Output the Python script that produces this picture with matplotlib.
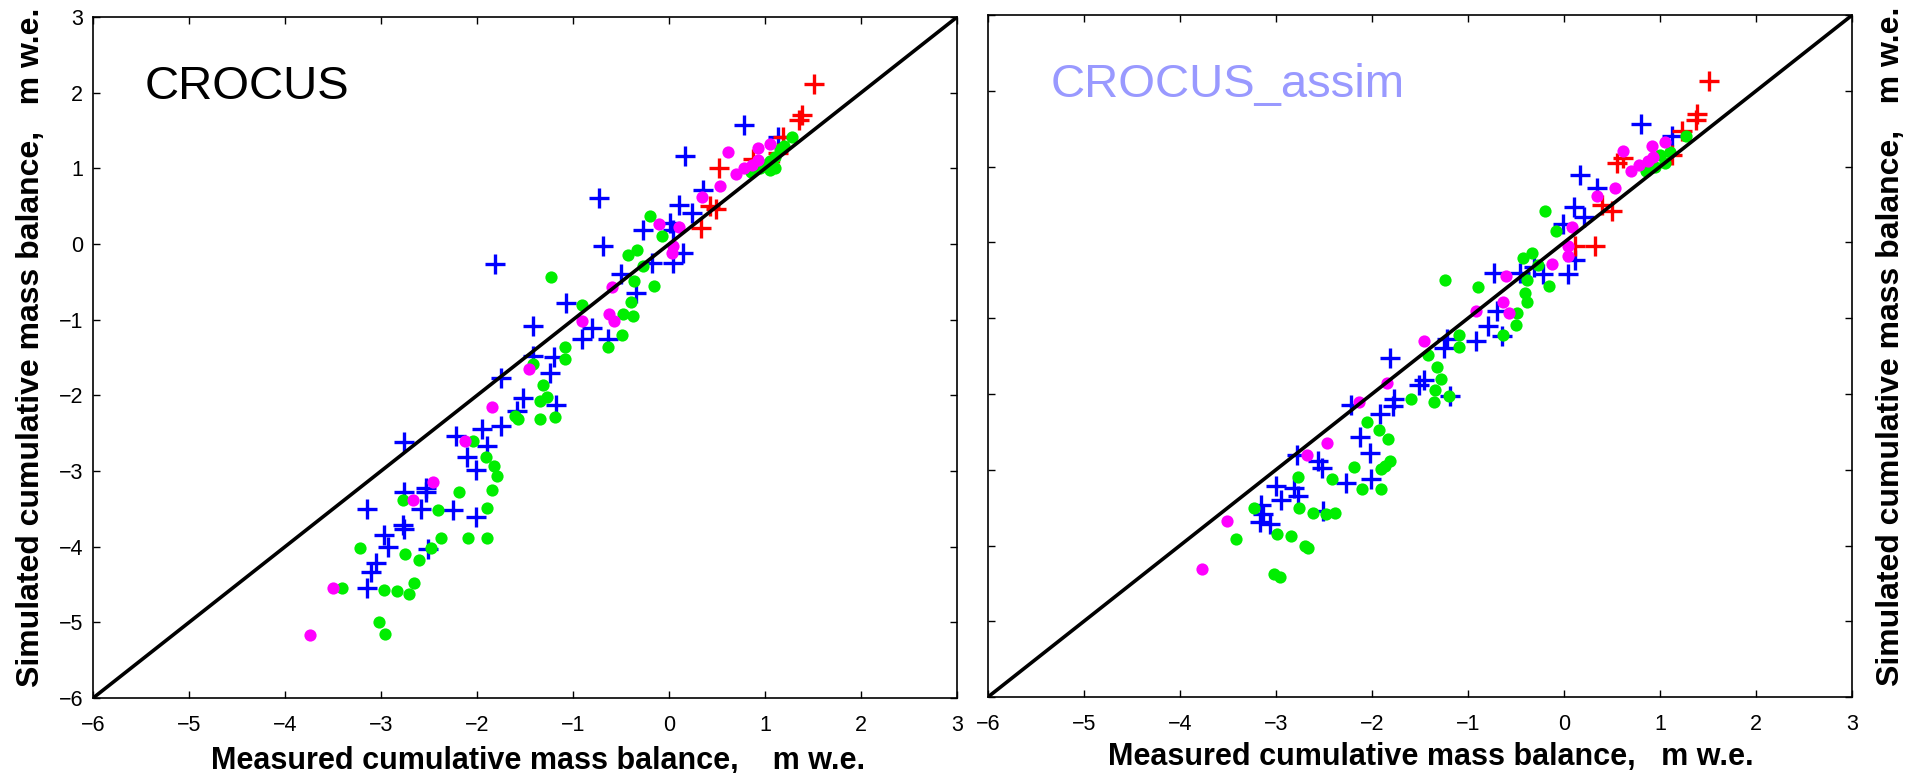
"""Simulated vs measured cumulative mass balance: CROCUS and CROCUS_assim."""

import matplotlib
matplotlib.use('Agg')
import matplotlib.pyplot as plt

plt.rcParams['font.family'] = ['Liberation Sans', 'DejaVu Sans']

# --- CROCUS (left panel) ---
red_x_l = [1.51, 1.38, 1.35, 1.19, 0.87, 1.13, 0.52, 0.43, 0.49, 0.33]
red_y_l = [2.12, 1.71, 1.64, 1.42, 1.13, 1.20, 1.00, 0.50, 0.46, 0.21]

blue_x_l = [0.78, 1.13, 0.17, 0.35, -0.73, 0.10, 0.24, -0.27, 0.01, 0.04,
            -0.69, -1.81, 0.14, 0.04, -0.18, -0.50, -0.34, -1.07, -1.42, -0.80,
            -0.91, -0.64, -1.20, -1.42, -1.24, -1.75, -1.52, -1.18, -1.58, -1.95,
            -1.75, -2.22, -2.76, -1.90, -2.11, -2.01, -2.53, -2.76, -2.53, -3.15,
            -2.58, -2.25, -2.01, -2.77, -2.76, -2.97, -2.93, -2.51, -3.05, -3.11,
            -3.15]
blue_y_l = [1.57, 1.42, 1.16, 0.72, 0.61, 0.52, 0.41, 0.19, 0.28, 0.19,
            -0.02, -0.26, -0.12, -0.25, -0.25, -0.40, -0.65, -0.78, -1.08, -1.11,
            -1.26, -1.26, -1.49, -1.48, -1.70, -1.77, -2.03, -2.13, -2.21, -2.44,
            -2.40, -2.54, -2.62, -2.67, -2.81, -2.98, -3.22, -3.28, -3.28, -3.50,
            -3.50, -3.52, -3.61, -3.71, -3.76, -3.85, -4.01, -4.03, -4.21, -4.33,
            -4.55]

green_x_l = [1.28, 1.00, 1.05, 1.10, 0.95, 1.15, 1.20, 0.85, 1.10, 1.05,
             -0.20, -0.07, -0.33, -0.43, -1.23, -0.27, -0.37, -0.16, -0.40, -0.91,
             -0.48, -0.38, -0.49, -0.64, -1.08, -1.08, -1.42, -1.31, -1.27, -1.34,
             -1.61, -1.57, -1.34, -1.19, -2.04, -1.91, -1.82, -1.79, -1.84, -2.19,
             -2.77, -2.41, -1.90, -2.38, -2.09, -1.90, -3.22, -2.48, -2.75, -2.61,
             -3.41, -2.97, -2.83, -2.71, -2.66, -3.02, -2.96]
green_y_l = [1.42, 1.05, 1.10, 1.15, 1.00, 1.25, 1.30, 0.95, 1.00, 0.98,
             0.37, 0.11, -0.08, -0.15, -0.44, -0.29, -0.49, -0.55, -0.76, -0.80,
             -0.93, -0.95, -1.20, -1.36, -1.36, -1.52, -1.59, -1.86, -2.02, -2.07,
             -2.27, -2.31, -2.31, -2.28, -2.60, -2.81, -2.94, -3.07, -3.25, -3.28,
             -3.38, -3.52, -3.49, -3.89, -3.89, -3.89, -4.02, -4.02, -4.10, -4.18,
             -4.55, -4.57, -4.59, -4.62, -4.48, -4.99, -5.15]

magenta_x_l = [0.61, 0.93, 1.05, 0.70, 0.78, 0.86, 0.93, 0.53, 0.34, -0.11,
               0.10, 0.04, 0.03, -0.59, -0.91, -0.63, -0.57, -1.46, -1.84, -2.13,
               -2.46, -2.67, -3.50, -3.74]
magenta_y_l = [1.21, 1.27, 1.32, 0.93, 1.00, 1.05, 1.11, 0.77, 0.62, 0.27,
               0.22, -0.03, -0.12, -0.57, -1.02, -0.93, -1.02, -1.65, -2.15, -2.60,
               -3.15, -3.38, -4.55, -5.17]

# --- CROCUS_assim (right panel) ---
red_x_r = [1.51, 1.39, 1.37, 1.23, 0.55, 0.61, 1.13, 0.40, 0.50, 0.32, 0.11]
red_y_r = [2.13, 1.70, 1.62, 1.47, 1.05, 1.11, 1.16, 0.50, 0.42, -0.05, -0.05]

blue_x_r = [0.80, 1.13, 0.17, 0.34, 0.10, 0.21, -0.01, 0.11, 0.04, -0.22,
            -0.46, -0.73, -0.31, -0.70, -0.79, -0.65, -0.92, -1.22, -1.25, -1.81,
            -1.46, -1.51, -2.22, -1.77, -1.78, -1.92, -1.19, -2.12, -2.02, -2.78,
            -2.56, -2.52, -2.27, -2.01, -3.00, -2.81, -2.77, -2.95, -3.16, -2.51,
            -3.13, -3.17, -3.06]
blue_y_r = [1.57, 1.40, 0.89, 0.72, 0.47, 0.34, 0.25, -0.23, -0.41, -0.41,
            -0.40, -0.40, -0.32, -0.91, -1.10, -1.24, -1.30, -1.28, -1.39, -1.52,
            -1.81, -1.88, -2.14, -2.07, -2.16, -2.27, -2.02, -2.57, -2.78, -2.80,
            -2.89, -2.98, -3.18, -3.12, -3.22, -3.24, -3.35, -3.40, -3.46, -3.55,
            -3.59, -3.69, -3.72]

green_x_r = [1.27, 1.00, 1.10, 0.90, 0.85, 1.05, 0.95, -0.20, -0.08, -0.33,
             -0.43, -0.27, -0.39, -1.24, -0.16, -0.90, -0.41, -0.39, -0.49, -0.50,
             -0.64, -1.09, -1.09, -1.42, -1.32, -1.28, -1.34, -1.59, -1.35, -1.20,
             -2.05, -1.93, -1.83, -1.81, -1.86, -1.91, -2.19, -2.77, -2.42, -2.10,
             -1.91, -3.23, -2.76, -2.61, -2.48, -2.39, -3.42, -2.99, -2.84, -2.70,
             -2.67, -3.02, -2.96]
green_y_r = [1.41, 1.15, 1.20, 1.00, 0.95, 1.05, 1.00, 0.41, 0.15, -0.14,
             -0.21, -0.30, -0.49, -0.49, -0.57, -0.59, -0.67, -0.78, -0.93, -1.09,
             -1.22, -1.22, -1.38, -1.49, -1.65, -1.80, -1.95, -2.07, -2.10, -2.02,
             -2.37, -2.48, -2.59, -2.88, -2.95, -2.99, -2.96, -3.10, -3.12, -3.25,
             -3.25, -3.51, -3.51, -3.57, -3.59, -3.57, -3.91, -3.85, -3.88, -4.01,
             -4.03, -4.38, -4.41]

magenta_x_r = [1.05, 0.92, 0.61, 0.93, 0.88, 0.78, 0.70, 0.53, 0.34, 0.08,
               0.04, 0.04, -0.12, -0.60, -0.64, -0.57, -0.92, -1.46, -1.84, -2.14,
               -2.47, -2.68, -3.51, -3.77]
magenta_y_r = [1.33, 1.27, 1.21, 1.13, 1.07, 1.02, 0.94, 0.72, 0.61, 0.21,
               -0.05, -0.18, -0.29, -0.44, -0.78, -0.93, -0.91, -1.30, -1.86, -2.11,
               -2.65, -2.80, -3.67, -4.31]

one_to_one = [-6, 3]
ticks = [-6, -5, -4, -3, -2, -1, 0, 1, 2, 3]

YLABEL = 'Simulated cumulative mass balance,   m w.e.'


def draw_panel(ax, blue, red, green, magenta, title, title_color):
    plus = dict(linestyle='none', marker='+', markersize=14.5, mew=2.4)
    dot = dict(linestyle='none', marker='o', markersize=8.8, mew=0)
    ax.plot(*blue, color='#0000ff', **plus)
    ax.plot(*red, color='#ff0000', **plus)
    ax.plot(*green, color='#00ee00', **dot)
    ax.plot(*magenta, color='#ff00ff', **dot)
    ax.plot(one_to_one, one_to_one, color='black', lw=2.6)

    ax.set_xlim(-6, 3)
    ax.set_ylim(-6, 3)
    ax.set_xticks(ticks)
    ax.set_yticks(ticks)
    ax.tick_params(direction='in', length=5, width=1, top=True, right=True,
                   labelsize=15.5)
    ax.tick_params(axis='x', pad=12)
    ax.tick_params(axis='y', pad=7)
    for s in ax.spines.values():
        s.set_linewidth(1.2)

    ax.text(-5.46, 1.92, title, fontsize=34, color=title_color,
            va='baseline', ha='left')


def main():
    fig = plt.figure(figsize=(19.15, 7.73), dpi=100)
    ax_l = fig.add_axes([0.0486, 0.0970, 0.4512, 0.881])
    ax_r = fig.add_axes([0.5159, 0.0983, 0.4512, 0.882])

    draw_panel(ax_l, (blue_x_l, blue_y_l), (red_x_l, red_y_l),
               (green_x_l, green_y_l), (magenta_x_l, magenta_y_l),
               'CROCUS', 'black')
    draw_panel(ax_r, (blue_x_r, blue_y_r), (red_x_r, red_y_r),
               (green_x_r, green_y_r), (magenta_x_r, magenta_y_r),
               'CROCUS_assim', '#9999ff')
    ax_r.texts[0].set_x(-5.35)
    ax_r.tick_params(axis='y', labelleft=False)

    ax_l.set_xlabel('Measured cumulative mass balance,    m w.e.',
                    fontsize=22, fontweight='bold', va='baseline')
    ax_l.xaxis.set_label_coords(0.515, -0.104)
    ax_r.set_xlabel('Measured cumulative mass balance,   m w.e.',
                    fontsize=22, fontweight='bold', va='baseline')
    ax_r.xaxis.set_label_coords(0.513, -0.100)

    ax_l.set_ylabel(YLABEL, fontsize=23, fontweight='bold',
                    va='center', ha='center')
    ax_l.yaxis.set_label_coords(-0.072, 0.515)
    ax_r.yaxis.set_label_position('right')
    ax_r.set_ylabel(YLABEL, fontsize=23, fontweight='bold',
                    va='center', ha='center', rotation=90)
    ax_r.yaxis.set_label_coords(1.045, 0.515)

    fig.savefig('out.png', dpi=100)


if __name__ == '__main__':
    main()
